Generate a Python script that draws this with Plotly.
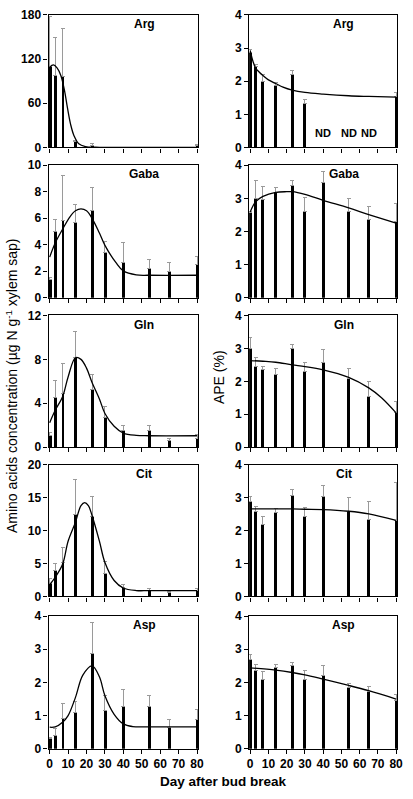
import plotly.graph_objects as go
from plotly.subplots import make_subplots

# ---------------- data ----------------
days = [0, 3, 7, 14, 23, 30, 40, 54, 65, 80]
amino_acids = ["Arg", "Gaba", "Gln", "Cit", "Asp"]

# left column: concentration (ug N g-1 xylem sap), bar values and upper SD
arg_conc = [110, 98, 96, 8, 3, 0, 0, 0, 0, 3]
arg_conc_sd = [68, 51, 66, 2, 3, 0, 0, 0, 0, 1]
gaba_conc = [1.35, 5.0, 5.85, 5.7, 6.55, 3.4, 2.65, 2.2, 2.0, 2.5]
gaba_conc_sd = [0.15, 0.9, 3.35, 1.3, 1.75, 0.85, 1.5, 0.7, 0.65, 0.65]
gln_conc = [1.05, 4.55, 4.9, 8.2, 5.3, 2.7, 1.5, 1.5, 0.6, 0.8]
gln_conc_sd = [0.25, 1.55, 2.75, 2.3, 1.3, 1.05, 0.45, 0.5, 0.2, 0.35]
cit_conc = [1.9, 3.9, 5.15, 12.4, 12.1, 3.5, 1.35, 0.85, 0.55, 0.95]
cit_conc_sd = [0.85, 1.1, 2.35, 5.3, 3.1, 1.75, 0.5, 0.35, 0.25, 0.25]
asp_conc = [0.3, 0.4, 0.9, 1.1, 2.88, 1.16, 1.27, 1.26, 0.65, 0.87]
asp_conc_sd = [0.05, 0.2, 0.46, 0.32, 0.92, 0.44, 0.51, 0.36, 0.22, 0.32]

# fitted curves
arg_conc_fit_x = [0, 2, 4, 6, 8, 9.7, 11.4, 13.2, 15.8, 19.4, 25, 30, 40, 55, 80]
arg_conc_fit_y = [109, 112, 108, 98, 78, 53, 31, 16, 5, 1.3, 0.3, 0, 0, 0, 0]
gaba_conc_fit_x = [0, 3, 7, 11, 14, 17, 20, 23, 27, 30, 36, 40, 47, 54, 80]
gaba_conc_fit_y = [3.07, 4.13, 5.17, 6.11, 6.56, 6.7, 6.56, 5.99, 4.88, 3.95, 2.65, 2.03, 1.73, 1.7, 1.7]
gln_conc_fit_x = [0, 3, 7, 10, 14, 17, 20, 23, 27, 30, 35, 40, 47, 54, 80]
gln_conc_fit_y = [2.23, 3.36, 4.6, 6.4, 8.15, 8.0, 7.2, 5.9, 4.4, 3.07, 1.9, 1.28, 1.07, 1.04, 1.04]
cit_conc_fit_x = [0, 3, 7, 10, 14, 17, 19, 21, 23, 27, 30, 35, 40, 47, 54, 80]
cit_conc_fit_y = [1.78, 2.92, 4.9, 8.4, 11.3, 13.8, 14.26, 13.8, 12.3, 8.4, 5.15, 2.43, 1.29, 0.9, 0.89, 0.89]
asp_conc_fit_x = [0, 3, 7, 10, 14, 18, 23, 27, 30, 35, 40, 45, 54, 80]
asp_conc_fit_y = [0.65, 0.66, 0.8, 1.0, 1.55, 2.22, 2.5, 2.17, 1.6, 1.04, 0.75, 0.67, 0.66, 0.66]

# right column: APE (%), bar values and upper SD (None = ND)
arg_ape = [2.87, 2.45, 2.0, 1.88, 2.19, 1.32, None, None, None, 1.53]
arg_ape_sd = [0.1, 0.05, 0.2, 0.08, 0.12, 0.13, 0, 0, 0, 0.13]
gaba_ape = [2.56, 3.0, 2.96, 3.18, 3.38, 2.6, 3.48, 2.6, 2.35, 2.3]
gaba_ape_sd = [0.05, 0.53, 0.4, 0.16, 0.15, 0.44, 0.33, 0.41, 0.39, 0.54]
gln_ape = [3.01, 2.45, 2.35, 2.22, 3.0, 2.3, 2.56, 2.1, 1.55, 1.04]
gln_ape_sd = [0.32, 0.27, 0.1, 0.18, 0.12, 0.26, 0.42, 0.3, 0.45, 0.35]
cit_ape = [2.89, 2.59, 2.18, 2.56, 3.07, 2.43, 3.05, 2.59, 2.33, 2.31]
cit_ape_sd = [0.14, 0.14, 0.25, 0.1, 0.18, 0.28, 0.33, 0.41, 0.55, 1.14]
asp_ape = [2.68, 2.35, 2.08, 2.45, 2.5, 2.1, 2.22, 1.86, 1.72, 1.46]
asp_ape_sd = [0.15, 0.2, 0.26, 0.09, 0.11, 0.27, 0.28, 0.1, 0.15, 0.17]

arg_ape_fit_x = [0, 1.5, 3, 5, 7, 10, 14, 18, 23, 30, 40, 54, 65, 80]
arg_ape_fit_y = [2.92, 2.6, 2.39, 2.27, 2.17, 2.04, 1.93, 1.82, 1.73, 1.66, 1.61, 1.56, 1.54, 1.52]
gaba_ape_fit_x = [0, 3, 7, 14, 20, 23, 30, 40, 54, 65, 80]
gaba_ape_fit_y = [2.59, 2.9, 3.06, 3.18, 3.2, 3.2, 3.12, 2.94, 2.71, 2.51, 2.25]
gln_ape_fit_x = [0, 7, 14, 23, 30, 40, 54, 65, 72, 80]
gln_ape_fit_y = [2.63, 2.61, 2.58, 2.5, 2.45, 2.35, 2.12, 1.8, 1.5, 1.04]
cit_ape_fit_x = [0, 14, 23, 30, 40, 54, 65, 80]
cit_ape_fit_y = [2.66, 2.66, 2.66, 2.65, 2.64, 2.59, 2.51, 2.31]
asp_ape_fit_x = [0, 14, 23, 30, 40, 54, 65, 80]
asp_ape_fit_y = [2.44, 2.37, 2.3, 2.23, 2.1, 1.91, 1.75, 1.5]

conc_vals = [arg_conc, gaba_conc, gln_conc, cit_conc, asp_conc]
conc_sds = [arg_conc_sd, gaba_conc_sd, gln_conc_sd, cit_conc_sd, asp_conc_sd]
conc_fits = [(arg_conc_fit_x, arg_conc_fit_y), (gaba_conc_fit_x, gaba_conc_fit_y),
             (gln_conc_fit_x, gln_conc_fit_y), (cit_conc_fit_x, cit_conc_fit_y),
             (asp_conc_fit_x, asp_conc_fit_y)]
ape_vals = [arg_ape, gaba_ape, gln_ape, cit_ape, asp_ape]
ape_sds = [arg_ape_sd, gaba_ape_sd, gln_ape_sd, cit_ape_sd, asp_ape_sd]
ape_fits = [(arg_ape_fit_x, arg_ape_fit_y), (gaba_ape_fit_x, gaba_ape_fit_y),
            (gln_ape_fit_x, gln_ape_fit_y), (cit_ape_fit_x, cit_ape_fit_y),
            (asp_ape_fit_x, asp_ape_fit_y)]

conc_ranges = [180, 10, 12, 20, 4]
conc_dticks = [60, 2, 4, 5, 1]
ape_range = 4
nd_days = [40, 54, 65]

x_ticks = [0, 10, 20, 30, 40, 50, 60, 70, 80]

# ---------------- figure ----------------
W, H = 413, 799
FONT = "Liberation Sans, Arial, sans-serif"
fig = make_subplots(rows=5, cols=2)

left_px = (47.5, 200)
right_px = (252, 403)
row_tops = [8, 161, 314, 466, 620]
row_bots = [143, 296, 448, 600, 755]

def add_panel(r, c, vals, sds, fit):
    fig.add_trace(go.Bar(
        x=days, y=vals, width=1.6, marker=dict(color="black", line=dict(width=0)),
        error_y=dict(type="data", array=sds, arrayminus=[0] * len(sds), symmetric=False,
                     color="#9a9a9a", thickness=1, width=2),
        showlegend=False), row=r, col=c)
    fig.add_trace(go.Scatter(
        x=fit[0], y=fit[1], mode="lines",
        line=dict(color="black", width=1.3, shape="spline", smoothing=1.0),
        showlegend=False), row=r, col=c)

for i in range(5):
    add_panel(i + 1, 1, conc_vals[i], conc_sds[i], conc_fits[i])
    add_panel(i + 1, 2, ape_vals[i], ape_sds[i], ape_fits[i])

for i in range(5):
    for c in (1, 2):
        idx = i * 2 + c
        xs = "" if idx == 1 else str(idx)
        px = left_px if c == 1 else right_px
        xdom = [px[0] / W, px[1] / W]
        ydom = [1 - row_bots[i] / H, 1 - row_tops[i] / H]
        yr = conc_ranges[i] if c == 1 else ape_range
        dt = conc_dticks[i] if c == 1 else 1
        fig.layout["xaxis" + xs].update(
            domain=xdom, range=[-0.6, 80.6], tickvals=x_ticks,
            showticklabels=(i == 4), ticks="outside", ticklen=4, tickwidth=1,
            tickcolor="black", showline=True, linecolor="black", linewidth=1.2,
            mirror=True, showgrid=False, zeroline=False,
            tickfont=dict(family=FONT, size=12, color="black", weight="bold"))
        fig.layout["yaxis" + xs].update(
            domain=ydom, range=[0, yr], dtick=dt, tick0=0,
            ticks="outside", ticklen=4, tickwidth=1, tickcolor="black",
            showline=True, linecolor="black", linewidth=1.2, mirror=True,
            showgrid=False, zeroline=False,
            tickfont=dict(family=FONT, size=12, color="black", weight="bold"))
        fig.add_annotation(
            text=amino_acids[i], xref="x" + xs + " domain", yref="y" + xs + " domain",
            x=0.64, y=0.93, showarrow=False, xanchor="center", yanchor="middle",
            font=dict(family=FONT, size=12, color="black", weight="bold"))

for d in nd_days:
    fig.add_annotation(text="ND", xref="x2", yref="y2", x=d, y=0.45, showarrow=False,
                       font=dict(family=FONT, size=11, color="black", weight="bold"))

fig.add_annotation(text="Amino acids concentration (µg N g<sup>-1</sup> xylem sap)",
                   xref="paper", yref="paper", x=10 / W, y=1 - 385 / H, textangle=-90,
                   showarrow=False, xanchor="center", yanchor="middle",
                   font=dict(family=FONT, size=14, color="black"))
fig.add_annotation(text="APE (%)", xref="paper", yref="paper", x=222 / W, y=1 - 377 / H,
                   textangle=-90, showarrow=False, xanchor="center", yanchor="middle",
                   font=dict(family=FONT, size=14, color="black"))
fig.add_annotation(text="Day after bud break", xref="paper", yref="paper",
                   x=226 / W, y=1 - 788 / H, showarrow=False, xanchor="center", yanchor="middle",
                   font=dict(family=FONT, size=13.5, color="black", weight="bold"))

fig.update_layout(width=W, height=H, margin=dict(l=0, r=0, t=0, b=0),
                  paper_bgcolor="white", plot_bgcolor="white", bargap=0,
                  showlegend=False)

fig.write_html("out.html", config={"displayModeBar": False},
               post_script="document.body.style.margin='0';document.body.style.overflow='hidden';")
